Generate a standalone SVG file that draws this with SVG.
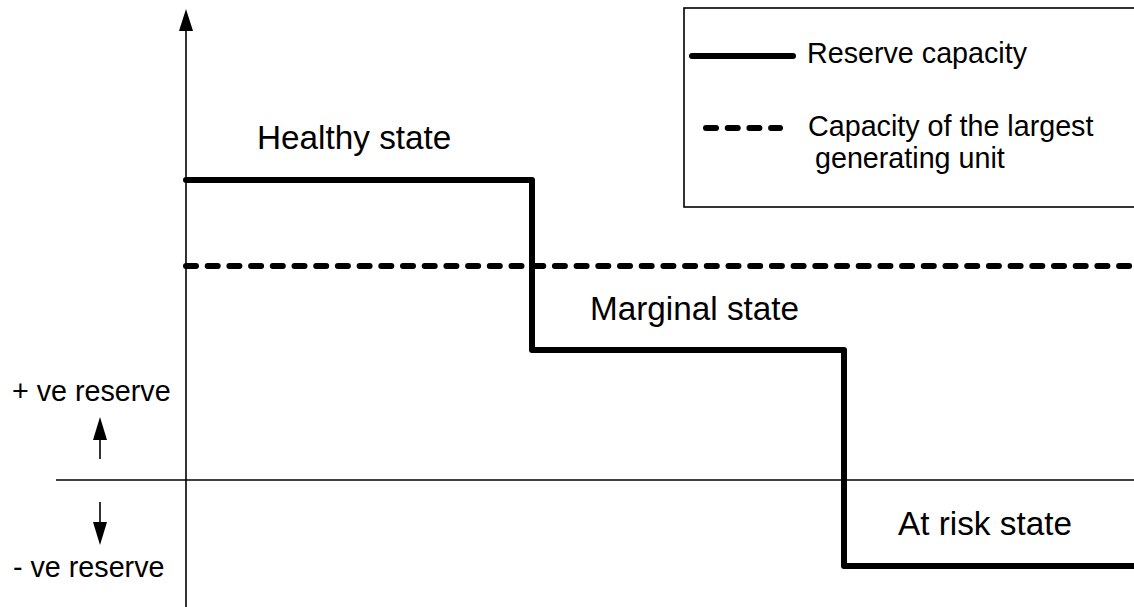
<svg xmlns="http://www.w3.org/2000/svg" width="1134" height="607" viewBox="0 0 1134 607">
<style>
text{font-family:"Liberation Sans",Arial,sans-serif;fill:#000}
.lbl{font-size:33.3px}
.sm{font-size:28.7px}
.thin{stroke:#000;stroke-width:1.6;fill:none}
.thick{stroke:#000;stroke-width:6;fill:none;stroke-linecap:round;stroke-linejoin:round}
.dash{stroke:#000;stroke-width:6;fill:none;stroke-linecap:round;stroke-dasharray:10 11.7}
</style>
<rect width="1134" height="607" fill="#fff"/>
<g id="axes">
<line class="thin" x1="186" y1="607" x2="186" y2="30"/>
<path d="M179,31 L186,9 L193,31 Z" fill="#000"/>
<line class="thin" x1="56" y1="480" x2="1134" y2="480"/>
</g>
<g id="legend">
<rect x="684" y="8" width="460" height="199" fill="none" stroke="#000" stroke-width="1.6"/>
<line class="thick" x1="692" y1="56" x2="793" y2="56"/>
<text class="sm" x="807" y="63">Reserve capacity</text>
<line class="dash" x1="706" y1="128" x2="780" y2="128" stroke-dasharray="9.5 10.5"/>
<text class="sm" x="808" y="136">Capacity of the largest</text>
<text class="sm" x="815" y="168">generating unit</text>
</g>
<g id="connectors">
<polyline class="thick" points="186,180 532,180 532,350 844,350 844,566 1140,566"/>
<line class="dash" x1="186" y1="266" x2="1140" y2="266"/>
<line class="thin" x1="100" y1="459" x2="100" y2="439"/>
<path d="M93,440 L100,417 L107,440 Z" fill="#000"/>
<line class="thin" x1="100" y1="502" x2="100" y2="523"/>
<path d="M93,522 L100,545 L107,522 Z" fill="#000"/>
</g>
<g id="healthy"><text class="lbl" x="257" y="149">Healthy state</text></g>
<g id="marginal"><text class="lbl" x="590" y="320">Marginal state</text></g>
<g id="atrisk"><text class="lbl" x="898" y="535">At risk state</text></g>
<g id="pos"><text class="sm" x="12" y="401">+ ve reserve</text></g>
<g id="neg"><text class="sm" x="13" y="577">- ve reserve</text></g>
</svg>
